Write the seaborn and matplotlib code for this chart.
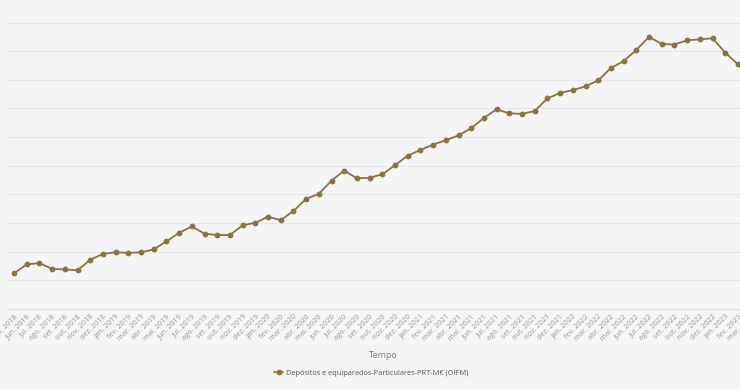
import numpy as np
import pandas as pd
import matplotlib
matplotlib.use("Agg")
import matplotlib.pyplot as plt
import seaborn as sns

meses = ['jan.', 'fev.', 'mar.', 'abr.', 'mai.', 'jun.',
         'jul.', 'ago.', 'set.', 'out.', 'nov.', 'dez.']
# mai. 2018 .. mar. 2023
labels = []
for ano in range(2018, 2024):
    for m in meses:
        labels.append(m + ' ' + str(ano))
labels = labels[4:4 + 59]

# M€, mai. 2018 .. fev. 2023
valores = [141200, 142800, 143000, 142000, 141900, 141750, 143600, 144600,
           144900, 144800, 144900, 145400, 146800, 148300, 149400, 148150,
           147900, 147900, 149600, 150050, 151100, 150500, 152100, 154200,
           155100, 157400, 159150, 157800, 157900, 158500, 160100, 161750,
           162750, 163700, 164450, 165300, 166550, 168350, 169850, 169150,
           169050, 169550, 171750, 172700, 173200, 173850, 174900, 177050,
           178250, 180200, 182500, 181250, 181150, 181900, 182050, 182250,
           179750, 177700]

serie = 'Depósitos e equiparados-Particulares-PRT-M€ (OIFM)'
df = pd.DataFrame({'pos': np.arange(len(valores)), 'valor': valores,
                   'serie': serie})

bg = '#f5f5f5'
cor = '#8b7342'

sns.set_style('white', {'axes.facecolor': bg, 'figure.facecolor': bg})
plt.rcParams['font.family'] = ['Open Sans', 'DejaVu Sans']

W, H = 740, 389
fig = plt.figure(figsize=(W / 100, H / 100), dpi=100)
# axes spans past the right edge (chart is cropped)
x0, x1 = 8, 760
y0, y1 = 309, 0
ax = fig.add_axes([x0 / W, 1 - y0 / H, (x1 - x0) / W, (y0 - y1) / H])

sns.lineplot(data=df, x='pos', y='valor', hue='serie', palette=[cor],
             marker='o', markersize=4.2, markeredgewidth=0, linewidth=1.3,
             ax=ax, legend=True)

step = 12.7
ax.set_xlim(-(14 - x0) / step, (x1 - 14) / step)
ax.set_ylim(135000, 135000 + (y0 - y1) / 28.65 * 5000)
ax.set_yticks(np.arange(135000, 190000, 5000))
ax.yaxis.grid(True, color='#e6e6e6', linewidth=0.8)
ax.set_axisbelow(True)
ax.tick_params(axis='y', left=False, labelleft=False)

ax.set_xticks(np.arange(len(labels)))
ax.set_xticklabels(labels, rotation=45, ha='right', rotation_mode='anchor',
                   fontsize=5.3, color='#9a9a9a')
ax.tick_params(axis='x', length=0, pad=3)
ax.set_xlabel('Tempo', fontsize=6.3, color='#7a7a7a', labelpad=3)
ax.set_ylabel('')
ax.xaxis.set_label_coords((383 - x0) / (x1 - x0), -(351 - y0) / (y0 - y1))

for s in ['top', 'right', 'left']:
    ax.spines[s].set_visible(False)
ax.spines['bottom'].set_color('#dcdce4')
ax.spines['bottom'].set_linewidth(0.8)

h, l = ax.get_legend_handles_labels()
ax.get_legend().remove()
fig.legend(h, l, loc='center', bbox_to_anchor=(371 / W, 1 - 373 / H),
           frameon=False, fontsize=5.3, handlelength=1.3, handletextpad=0.3,
           labelcolor='#555555')

fig.savefig('out.png', dpi=100, facecolor=bg)
